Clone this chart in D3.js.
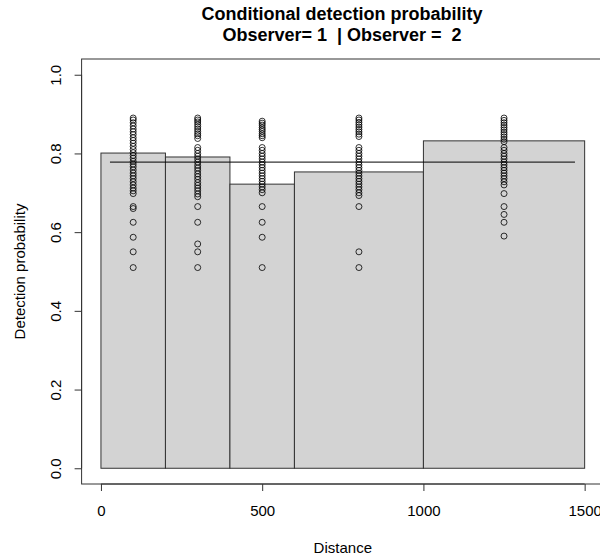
<!DOCTYPE html>
<html>
<head>
<meta charset="utf-8">
<script src="https://cdn.jsdelivr.net/npm/d3@7"></script>
<style>
html,body{margin:0;padding:0;background:#fff;}
svg{display:block;font-family:"Liberation Sans",Arial,Helvetica,sans-serif;}
text{white-space:pre;}
</style>
</head>
<body>
<svg id="chart" width="600" height="559"></svg>
<script>
// ---- data ----
const binEdges = [0, 200, 400, 600, 1000, 1500];
const binProb = [0.801, 0.791, 0.722, 0.753, 0.832];
const pointDistances = [100, 300, 500, 800, 1250];
const pts100 = [0.89,0.885,0.878,0.87,0.862,0.855,0.848,0.84,0.833,0.826,0.818,0.81,0.802,0.795,0.788,0.78,0.773,0.766,0.758,0.75,0.743,0.736,0.728,0.72,0.712,0.705,0.698,0.665,0.66,0.625,0.587,0.55,0.51];
const pts300 = [0.89,0.885,0.88,0.874,0.868,0.862,0.856,0.85,0.845,0.838,0.815,0.808,0.80,0.793,0.786,0.778,0.77,0.763,0.756,0.748,0.741,0.734,0.726,0.719,0.712,0.705,0.697,0.69,0.665,0.625,0.57,0.55,0.51];
const pts500 = [0.882,0.877,0.872,0.866,0.861,0.856,0.85,0.845,0.84,0.815,0.808,0.80,0.793,0.786,0.778,0.771,0.764,0.757,0.75,0.743,0.736,0.729,0.722,0.715,0.708,0.70,0.665,0.625,0.587,0.51];
const pts800 = [0.89,0.885,0.879,0.873,0.867,0.861,0.855,0.849,0.843,0.815,0.808,0.80,0.793,0.786,0.778,0.771,0.764,0.757,0.75,0.743,0.736,0.729,0.722,0.715,0.708,0.70,0.693,0.665,0.55,0.51];
const pts1250 = [0.89,0.884,0.878,0.872,0.866,0.86,0.854,0.848,0.842,0.836,0.83,0.815,0.808,0.80,0.793,0.786,0.778,0.771,0.764,0.757,0.75,0.743,0.736,0.728,0.72,0.698,0.665,0.645,0.625,0.59];
const pointSets = [pts100, pts300, pts500, pts800, pts1250];
const avgProb = 0.778;
const avgRange = [28, 1470];
const xTicks = [0, 500, 1000, 1500];
const yTicks = [0, 0.2, 0.4, 0.6, 0.8, 1.0];
const titleLines = ["Conditional detection probability", "Observer= 1  | Observer =  2"];
const xLabel = "Distance";
const yLabel = "Detection probability";

// ---- layout ----
const svg = d3.select("#chart");
const box = {left: 81.6, right: 604, top: 59, bottom: 484};
const x = d3.scaleLinear().domain([-60, 1560]).range([box.left, box.right]);
const y = d3.scaleLinear().domain([-0.04, 1.04]).range([box.bottom, box.top]);

const bins = binProb.map((p, i) => ({x0: binEdges[i], x1: binEdges[i+1], p}));

// bars
svg.append("g").selectAll("rect").data(bins).join("rect")
  .attr("x", d => x(d.x0))
  .attr("y", d => y(d.p))
  .attr("width", d => x(d.x1) - x(d.x0))
  .attr("height", d => y(0) - y(d.p))
  .attr("fill", "#d3d3d3")
  .attr("stroke", "#333")
  .attr("stroke-width", 1);

// points
const flat = [];
pointSets.forEach((arr, i) => arr.forEach(v => flat.push({d: pointDistances[i], v})));
svg.append("g").selectAll("circle").data(flat).join("circle")
  .attr("cx", d => x(d.d))
  .attr("cy", d => y(d.v))
  .attr("r", 3)
  .attr("fill", "none")
  .attr("stroke", "#000")
  .attr("stroke-width", 0.8);

// average line
svg.append("line")
  .attr("x1", x(avgRange[0])).attr("x2", x(avgRange[1]))
  .attr("y1", y(avgProb)).attr("y2", y(avgProb))
  .attr("stroke", "#000").attr("stroke-width", 1);

// plot box
svg.append("rect")
  .attr("x", box.left).attr("y", box.top)
  .attr("width", box.right - box.left).attr("height", box.bottom - box.top)
  .attr("fill", "none").attr("stroke", "#333").attr("stroke-width", 1);

// x axis
const xAxis = d3.axisBottom(x).tickValues(xTicks).tickSize(7).tickPadding(14).tickFormat(d3.format("d"));
const gx = svg.append("g").attr("transform", `translate(0,${box.bottom})`).call(xAxis);
gx.select(".domain").attr("d", `M${x(0)},0H${x(1500)}`).attr("stroke", "#333");
gx.selectAll(".tick line").attr("stroke", "#333");
gx.selectAll("text").attr("font-size", 15).attr("fill", "#000").attr("font-family", "Liberation Sans, Arial, sans-serif");

// y axis
const yAxis = d3.axisLeft(y).tickValues(yTicks).tickSize(7).tickFormat(d3.format(".1f"));
const gy = svg.append("g").attr("transform", `translate(${box.left},0)`).call(yAxis);
gy.select(".domain").attr("d", `M0,${y(0)}V${y(1)}`).attr("stroke", "#333");
gy.selectAll(".tick line").attr("stroke", "#333");
gy.selectAll("text")
  .attr("font-size", 15).attr("fill", "#000").attr("font-family", "Liberation Sans, Arial, sans-serif")
  .attr("x", null).attr("dy", null)
  .attr("text-anchor", "middle")
  .attr("transform", "translate(-21,0) rotate(-90)")
  .attr("y", 0);

// titles
svg.append("g").selectAll("text").data(titleLines).join("text")
  .attr("x", 342).attr("y", (d, i) => 20 + i * 21)
  .attr("text-anchor", "middle")
  .attr("font-weight", "bold").attr("font-size", 18)
  .text(d => d);

svg.append("text")
  .attr("x", x(750)).attr("y", 553)
  .attr("text-anchor", "middle").attr("font-size", 15)
  .text(xLabel);

svg.append("text")
  .attr("transform", `translate(25,${y(0.5)}) rotate(-90)`)
  .attr("text-anchor", "middle").attr("font-size", 15)
  .text(yLabel);
</script>
</body>
</html>
